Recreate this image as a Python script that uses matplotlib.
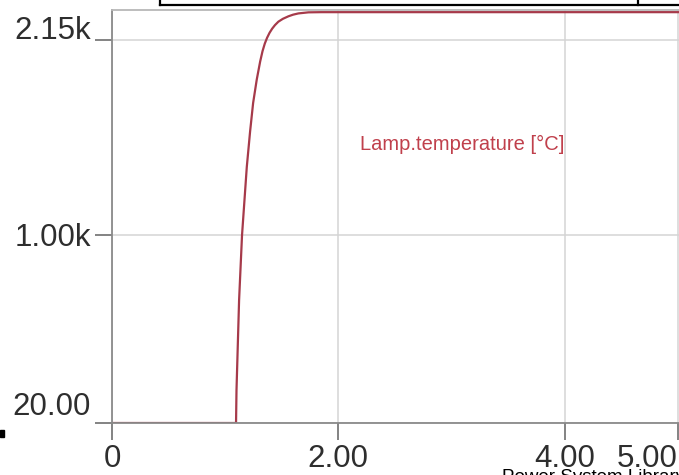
import matplotlib
matplotlib.use("Agg")
import matplotlib.pyplot as plt
from matplotlib.lines import Line2D
from matplotlib.patches import Rectangle
from matplotlib.transforms import ScaledTranslation

# simulation result
time = [0.0, 1.096, 1.10, 1.11, 1.123, 1.149, 1.191, 1.22, 1.247, 1.279, 1.309, 1.33,
        1.35, 1.37, 1.392, 1.415, 1.44, 1.47, 1.51, 1.559, 1.60, 1.647, 1.736, 1.85, 5.0]
temp = [20, 20, 200, 420, 704, 1065, 1444, 1640, 1800, 1930, 2030, 2088,
        2130, 2162, 2190, 2213, 2233, 2252, 2268, 2282, 2291, 2298, 2304, 2305, 2305]

xticks = [0, 2, 4, 5]
xlabels = ["0", "2.00", "4.00", "5.00"]
yticks = [20, 1065, 2150]
ylabels = ["20.00", "1.00k", "2.15k"]
series_name = "Lamp.temperature [°C]"

plt.rcParams['font.family'] = ['Liberation Sans', 'DejaVu Sans']

fig = plt.figure(figsize=(6.79, 4.75), dpi=100)
ax = fig.add_axes([112 / 679, 52 / 475, 567 / 679, 413 / 475])

ax.plot(time, temp, color='#a63a4a', lw=1.6, solid_joinstyle='round')

ax.set_xlim(0, 5.01)
ax.set_ylim(20, 2317)
ax.set_xticks(xticks)
ax.set_xticklabels(xlabels)
ax.set_yticks(yticks)
ax.set_yticklabels(ylabels)
ax.get_xticklabels()[-1].set_ha('right')

ax.grid(True, color='#d4d4d4', lw=1.1)
ax.set_axisbelow(True)
ax.tick_params(direction='out', length=12, width=1.3, color='#7a7a7a',
               labelsize=22.5, labelcolor='#2e2e2e', pad=3)

# Dymola-style label placement: end labels sit above their ticks
for lab, va, dy in zip(ax.get_yticklabels(), ['baseline', 'center_baseline', 'baseline'], [8, 1, 1]):
    lab.set_va(va)
    lab.set_transform(lab.get_transform() + ScaledTranslation(0, dy / 100, fig.dpi_scale_trans))

for s in ['left', 'bottom', 'top']:
    ax.spines[s].set_color('#8a8a8a')
    ax.spines[s].set_linewidth(1.3)
ax.spines['top'].set_color('#b8b8b8')
ax.spines['right'].set_visible(False)

ax.text(2.19, 1538, series_name, color='#c0404c', fontsize=14.5,
        va='baseline', ha='left')

# pieces of the surrounding window
fig.add_artist(Line2D([160 / 679, 1.0], [1 - 5 / 475, 1 - 5 / 475], color='black', lw=1.6))
fig.add_artist(Line2D([160 / 679, 160 / 679], [1 - 5 / 475, 1.0], color='black', lw=1.6))
fig.add_artist(Line2D([638 / 679, 638 / 679], [1 - 5 / 475, 1.0], color='black', lw=1.6))
fig.add_artist(Rectangle((0, 1 - 437 / 475), 4 / 679, 7 / 475, color='black'))
fig.text(502 / 679, 1 - 469 / 475, "Power System Library", fontsize=13.5, va='top', ha='left')

fig.savefig("out.png", dpi=100)
